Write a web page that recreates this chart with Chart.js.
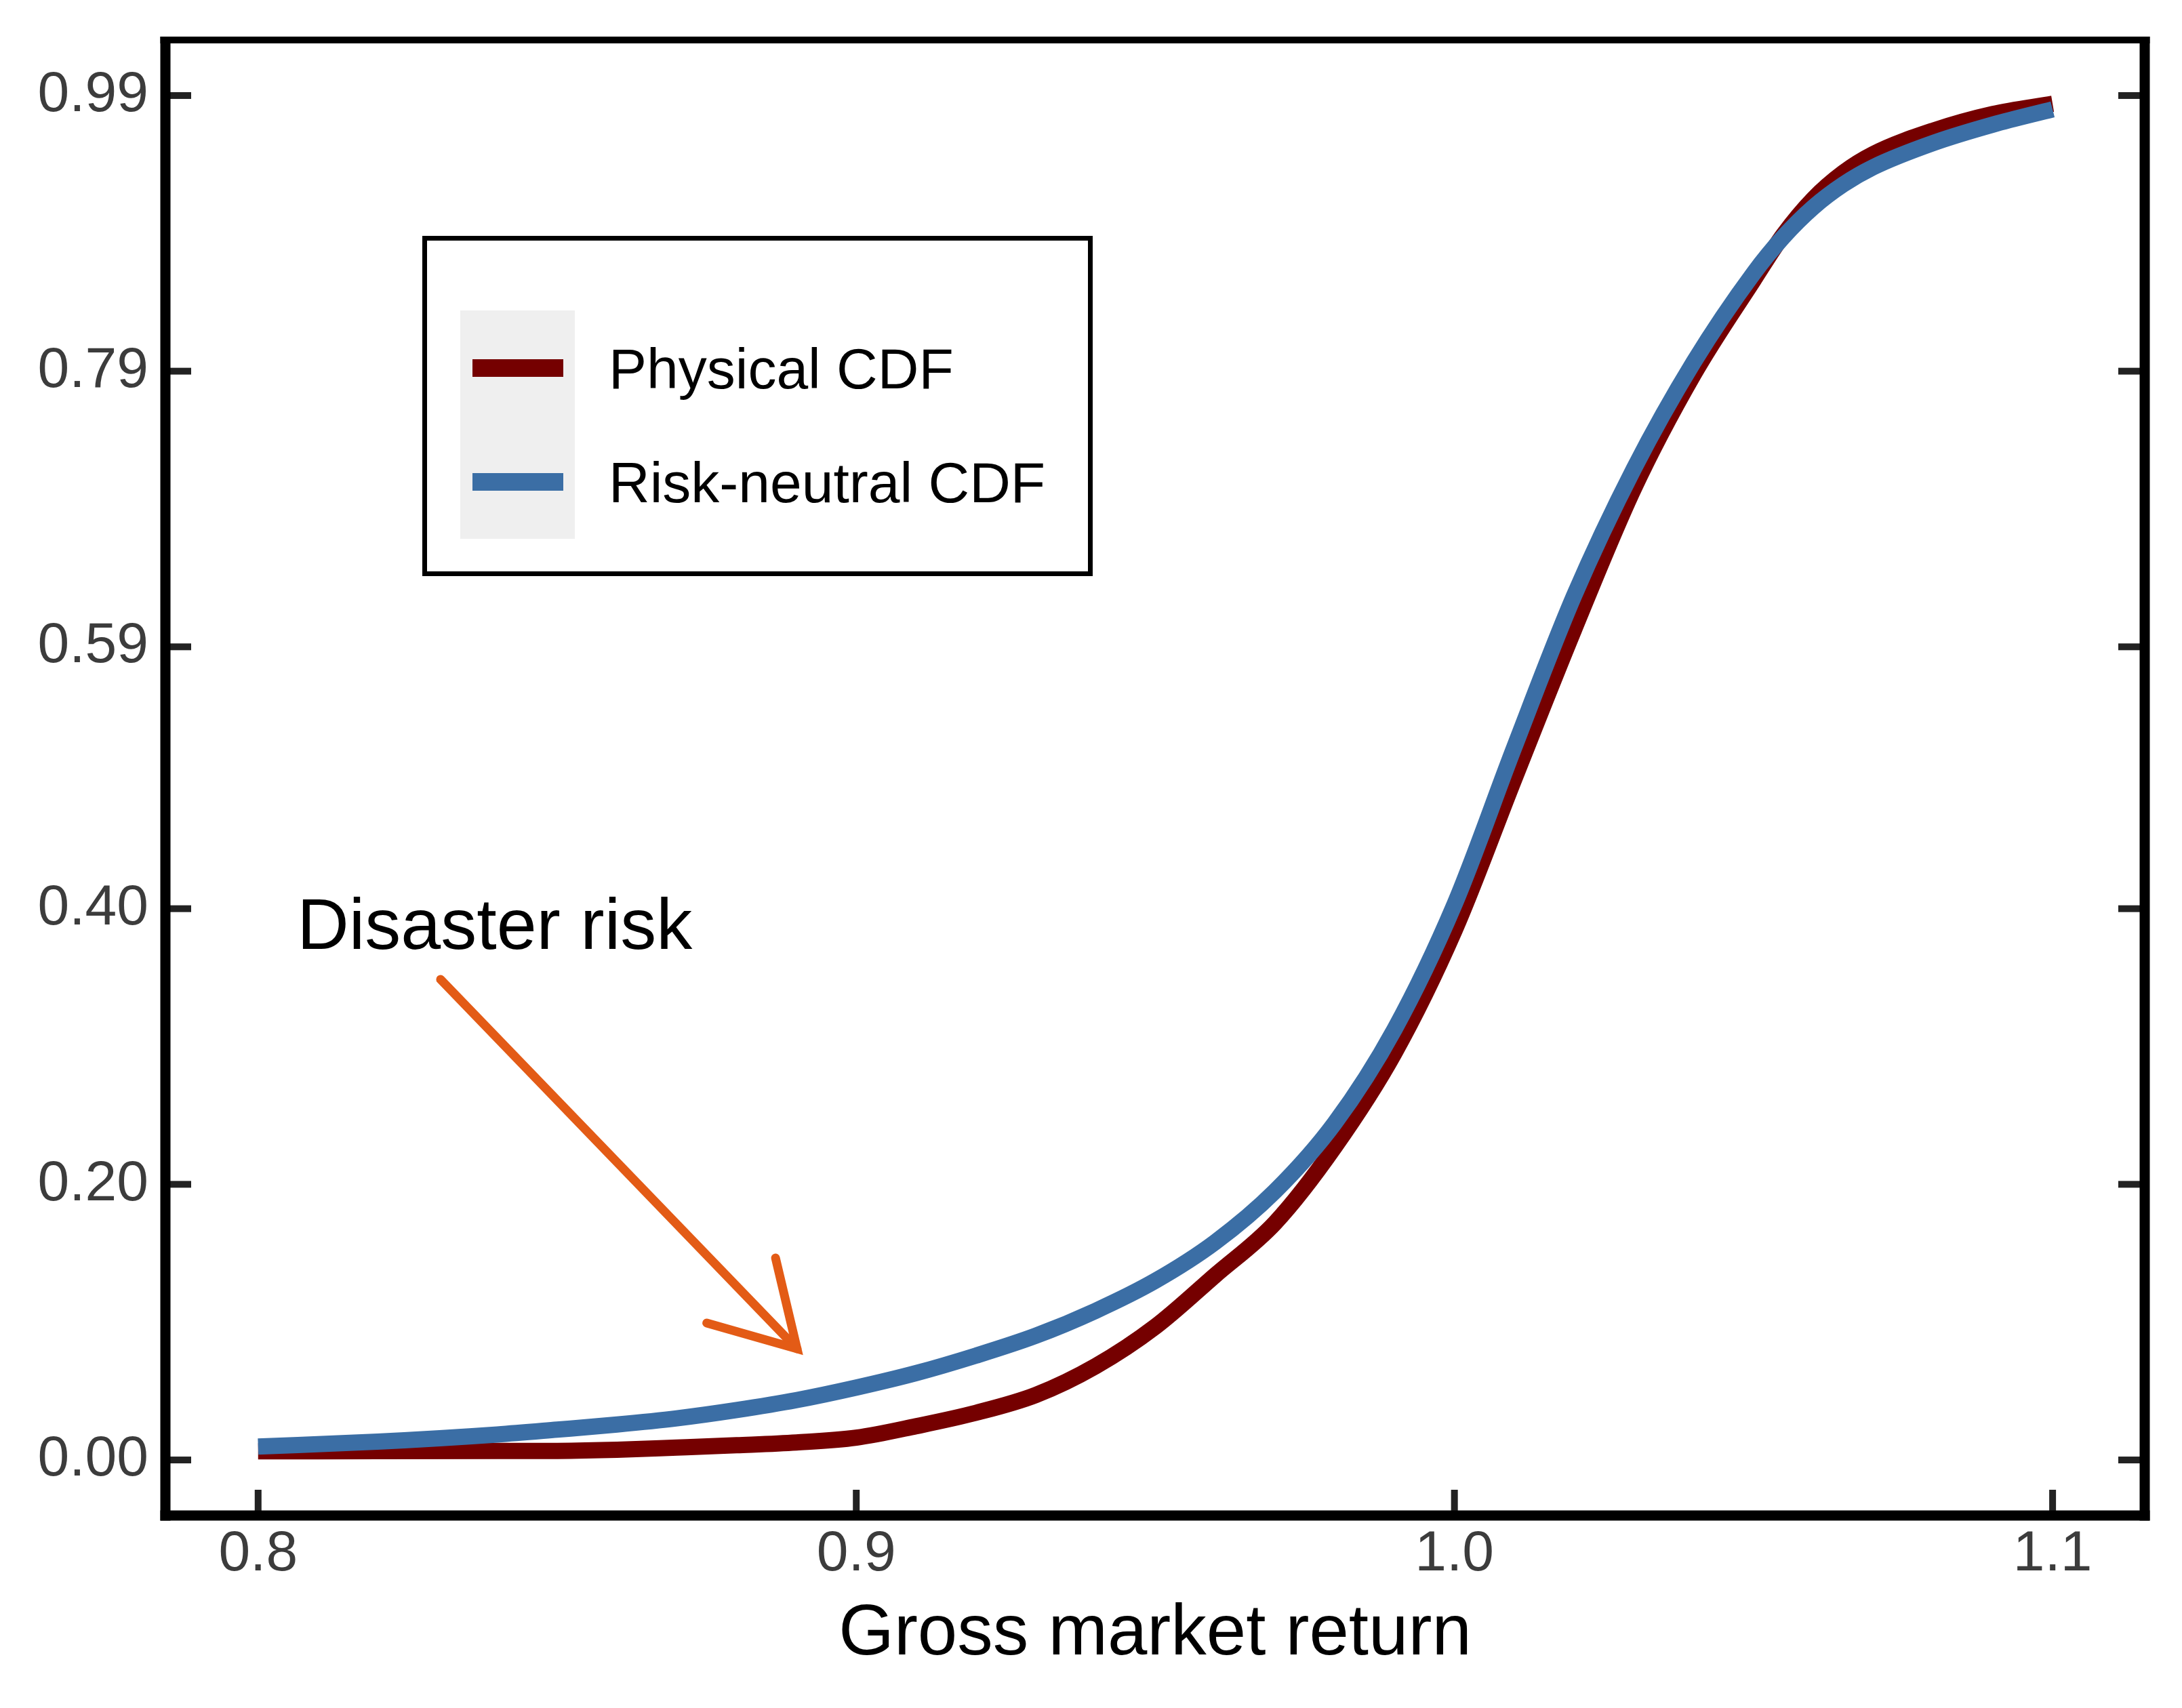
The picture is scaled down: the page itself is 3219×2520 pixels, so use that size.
<!DOCTYPE html>
<html><head><meta charset="utf-8">
<script src="https://cdn.jsdelivr.net/npm/chart.js@4.4.1/dist/chart.umd.min.js"></script>
<style>html,body{margin:0;padding:0;background:#fff;}canvas{display:block;}</style>
</head><body>
<canvas id="c" width="3219" height="2520"></canvas>
<script>
// ---- data ----
const returns = [0.80,0.82,0.84,0.85,0.86,0.87,0.88,0.89,0.90,0.91,0.92,0.93,0.94,0.95,0.96,0.97,0.98,0.99,1.00,1.01,1.02,1.03,1.04,1.05,1.055,1.06,1.065,1.07,1.08,1.09,1.10];
const physicalCDF = [0.0063,0.0064,0.0065,0.0066,0.0074,0.0090,0.0107,0.0127,0.0162,0.0245,0.0342,0.0471,0.0680,0.0967,0.1340,0.1720,0.2273,0.2955,0.3840,0.4940,0.6025,0.7049,0.7877,0.8560,0.8890,0.9150,0.9340,0.9475,0.9645,0.9766,0.9840];
const riskNeutralCDF = [0.0097,0.0133,0.0185,0.0220,0.0257,0.0302,0.0362,0.0434,0.0525,0.0630,0.0757,0.0901,0.1082,0.1300,0.1580,0.1950,0.2445,0.3126,0.4030,0.5170,0.6270,0.7192,0.7966,0.8610,0.8875,0.9090,0.9255,0.9380,0.9555,0.9689,0.9800];
const seriesNames = ['Physical CDF','Risk-neutral CDF'];
const xTicks = [0.8,0.9,1.0,1.1];
const xTickLabels = ['0.8','0.9','1.0','1.1'];
const yTicks = [0,0.20,0.40,0.59,0.79,0.99];
const yTickLabels = ['0.00','0.20','0.40','0.59','0.79','0.99'];
const xTitle = 'Gross market return';
const annotationText = 'Disaster risk';
// annotation anchor points in data coordinates
const annoTextAt = [0.8065, 0.3709];
const arrowFrom = [0.8305, 0.3487];
const arrowTip = [0.8901, 0.0807];
const arrowArm1 = [0.8865, 0.1466];
const arrowArm2 = [0.8750, 0.0994];

const FONT = "'Liberation Sans', Arial, sans-serif";
const RED = '#750000', BLUE = '#3b6ea5', ORANGE = '#e35b16';

const decor = {
  id: 'decor',
  beforeDraw(chart) {
    const {ctx, width, height} = chart;
    ctx.save(); ctx.fillStyle = '#fff'; ctx.fillRect(0, 0, width, height); ctx.restore();
  },
  afterDraw(chart) {
    const {ctx, chartArea: a, scales: {x, y}} = chart;
    ctx.save();
    // inward tick marks
    ctx.fillStyle = '#222';
    yTicks.forEach(v => {
      const py = y.getPixelForValue(v);
      ctx.fillRect(a.left, py - 5, 38, 10);
      ctx.fillRect(a.right - 39, py - 5, 39, 10);
    });
    xTicks.forEach(v => {
      const px = x.getPixelForValue(v);
      ctx.fillRect(px - 5, a.bottom - 38, 10, 38);
    });
    // frame
    ctx.fillStyle = '#000';
    ctx.fillRect(a.left - 7.5, a.top - 5, a.right - a.left + 15, 10);
    ctx.fillRect(a.left - 7.5, a.top - 5, 15, a.bottom - a.top + 12.5);
    ctx.fillRect(a.right - 7.5, a.top - 5, 15, a.bottom - a.top + 12.5);
    ctx.fillRect(a.left - 7.5, a.bottom - 7.5, a.right - a.left + 15, 15);

    // legend
    const ds = chart.data.datasets;
    const lx = a.left + 382.5, ly = a.top + 292.5;
    ctx.lineWidth = 7; ctx.strokeStyle = '#000';
    ctx.strokeRect(lx, ly, 982, 495);
    ctx.fillStyle = '#efefef';
    ctx.fillRect(lx + 52.5, ly + 106.5, 169, 337);
    const rows = [ly + 191.5, ly + 359.5];
    ctx.font = '84px ' + FONT; ctx.textAlign = 'left'; ctx.textBaseline = 'alphabetic';
    [0, 1].forEach(i => {
      ctx.fillStyle = ds[i].borderColor;
      ctx.fillRect(lx + 70.5, rows[i] - 13, 134, 26);
      ctx.fillStyle = '#000';
      ctx.fillText(ds[i].label, lx + 271.5, rows[i] + 30);
    });

    // annotation
    ctx.font = '106px ' + FONT; ctx.fillStyle = '#000'; ctx.textBaseline = 'alphabetic';
    ctx.fillText(annotationText, x.getPixelForValue(annoTextAt[0]), y.getPixelForValue(annoTextAt[1]));
    const P = p => [x.getPixelForValue(p[0]), y.getPixelForValue(p[1])];
    ctx.strokeStyle = ORANGE; ctx.lineWidth = 13; ctx.lineCap = 'round'; ctx.lineJoin = 'miter';
    ctx.beginPath(); ctx.moveTo(...P(arrowFrom)); ctx.lineTo(...P(arrowTip)); ctx.stroke();
    ctx.beginPath(); ctx.moveTo(...P(arrowArm1)); ctx.lineTo(...P(arrowTip)); ctx.lineTo(...P(arrowArm2)); ctx.stroke();
    ctx.restore();
  }
};

new Chart(document.getElementById('c'), {
  type: 'line',
  data: {
    datasets: [
      {label: seriesNames[0], data: returns.map((r, i) => ({x: r, y: physicalCDF[i]})), borderColor: RED, backgroundColor: RED, order: 2},
      {label: seriesNames[1], data: returns.map((r, i) => ({x: r, y: riskNeutralCDF[i]})), borderColor: BLUE, backgroundColor: BLUE, order: 1}
    ]
  },
  options: {
    responsive: false, animation: false, devicePixelRatio: 1,
    layout: {padding: {left: 0, top: 59, right: 55, bottom: 0}},
    plugins: {legend: {display: false}, tooltip: {enabled: false}},
    elements: {
      point: {radius: 0, hoverRadius: 0},
      line: {borderWidth: 24, cubicInterpolationMode: 'monotone', borderCapStyle: 'butt', borderJoinStyle: 'round', fill: false}
    },
    scales: {
      x: {
        type: 'linear', position: 'bottom', min: 0.7845, max: 1.1154,
        afterFit(s) { s.height = 284; s.paddingLeft = 0; s.paddingRight = 0; },
        afterBuildTicks(s) { s.ticks = xTicks.map(v => ({value: v})); },
        grid: {display: false, drawTicks: false}, border: {display: false},
        ticks: {padding: 7, color: '#3c3c3c', autoSkip: false, maxRotation: 0, font: {family: FONT, size: 84},
          callback: v => xTickLabels[xTicks.indexOf(v)]},
        title: {display: true, text: xTitle, color: '#000', font: {family: FONT, size: 105}, padding: {top: 0, bottom: 45}}
      },
      y: {
        type: 'linear', position: 'left', min: -0.0403, max: 1.0303,
        afterFit(s) { s.width = 244; s.paddingTop = 0; s.paddingBottom = 0; },
        afterBuildTicks(s) { s.ticks = yTicks.map(v => ({value: v})); },
        grid: {display: false, drawTicks: false}, border: {display: false},
        ticks: {padding: 25, color: '#3c3c3c', autoSkip: false, font: {family: FONT, size: 84},
          callback: v => yTickLabels[yTicks.indexOf(v)]}
      }
    }
  },
  plugins: [decor]
});
</script>
</body></html>
